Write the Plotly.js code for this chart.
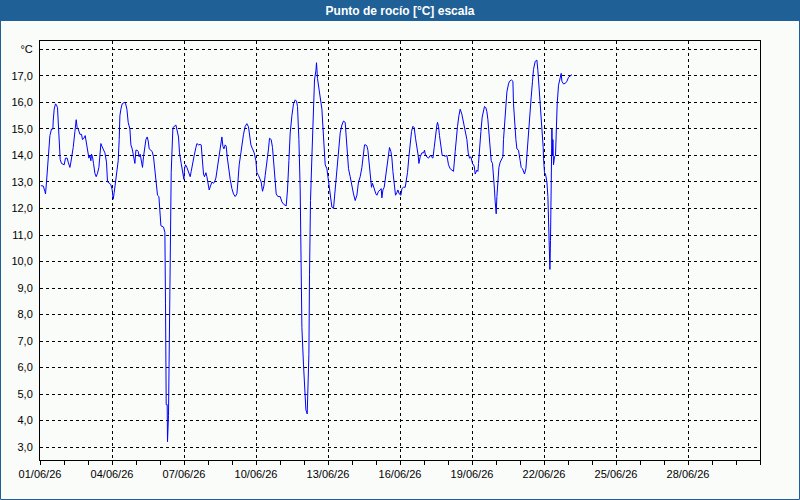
<!DOCTYPE html>
<html>
<head>
<meta charset="utf-8">
<script src="https://cdn.plot.ly/plotly-3.0.1.min.js"></script>
<style>html,body{margin:0;padding:0;background:#fafcfa;}#chart{width:800px;height:500px;}</style>
</head>
<body>
<div id="chart"></div>
<script>
// Hours since 01/06/26 00:00
const hours = [0.9,3.2,4.9,5.5,6.5,8.2,9.2,9.9,11.5,12.9,13.2,14.2,15.5,16.5,17.5,18.9,19.5,20.2,21.5,23.2,24.2,25.5,27.2,28.2,29.9,30.9,32.2,33.2,34.9,36.2,37.2,38.2,39.9,41.5,42.5,43.9,45.2,46.5,47.5,48.9,49.9,50.9,51.5,52.5,53.5,54.9,56.2,57.5,58.9,59.9,60.9,61.9,63.2,64.9,66.5,67.5,68.9,70.9,72.2,73.2,74.2,75.5,76.9,78.2,79.2,79.9,80.9,82.2,84.2,85.5,86.9,88.2,89.9,90.9,92.2,93.5,94.9,95.9,97.2,98.2,99.2,100.2,101.5,102.5,103.5,104.9,105.9,107.2,108.2,109.2,110.9,112.2,113.5,114.9,115.9,117.5,118.9,119.9,120.9,123.5,124.9,125.5,126.2,127.2,127.5,128.5,129.2,129.9,130.9,131.2,132.9,135.9,138.5,139.5,141.2,142.9,143.9,144.5,145.5,146.9,148.5,150.2,151.2,152.5,154.2,155.9,156.9,158.5,160.2,161.2,162.5,163.5,164.5,165.9,166.9,167.9,169.2,170.5,171.9,173.5,174.5,175.9,177.2,178.5,179.9,180.9,181.9,182.9,183.9,185.2,186.2,187.2,188.5,190.2,191.9,193.5,195.2,196.9,197.9,199.2,200.9,201.9,203.5,205.2,206.9,208.5,209.5,210.9,212.5,214.2,215.9,216.9,218.5,220.2,221.2,222.5,223.9,225.2,226.9,228.5,229.5,231.2,232.5,233.9,235.2,236.2,237.9,240.2,241.9,243.9,246.2,247.5,248.9,250.2,251.9,253.5,255.2,256.5,257.5,258.9,260.2,260.9,261.9,263.5,264.5,265.9,267.2,267.9,268.9,269.5,270.5,271.9,273.2,274.5,275.9,276.5,277.5,278.5,280.2,281.9,283.5,285.2,286.9,287.9,289.2,290.5,291.9,293.5,294.5,295.5,296.9,298.5,300.2,301.9,303.5,305.2,306.2,307.5,308.5,310.2,311.9,313.5,315.2,316.9,318.5,320.2,321.9,323.5,324.5,325.9,326.9,327.9,329.2,330.2,331.5,332.5,333.5,334.5,335.9,336.9,338.5,340.2,341.2,341.9,342.9,344.2,345.5,346.9,348.5,349.5,350.9,351.9,352.9,354.2,355.5,356.9,357.9,359.2,360.9,361.9,363.5,365.2,366.2,367.5,368.9,370.2,371.5,372.9,374.2,375.5,376.9,378.2,378.9,380.2,381.9,383.5,384.5,385.5,386.9,388.5,390.2,391.9,392.9,394.2,395.5,396.9,397.5,398.5,399.5,400.9,402.2,403.5,405.2,406.9,408.5,410.2,411.9,413.5,415.2,416.2,417.5,418.9,420.2,421.9,423.5,425.2,426.9,428.2,429.5,430.9,432.5,434.2,435.2,436.9,437.9,438.5,439.5,440.9,442.2,443.5,444.5,445.9,446.9,447.9,449.2,450.2,451.2,452.5,453.5,454.5,455.2,456.2,456.9,457.9,458.9,460.2,461.9,462.9,463.5,464.5,465.5,466.9,468.5,469.5,471.5,472.9,473.5,474.5,475.9,476.9,478.5,480.2,481.2,482.5,483.5,484.5,485.9,486.9,488.5,490.2,491.2,492.5,493.5,495.2,496.9,497.9,499.2,500.2,501.2,502.2,503.2,503.5,504.5,505.5,506.9,507.9,508.5,509.2,509.9,510.5,511.2,511.9,512.5,512.9,513.5,514.5,515.5,516.2,517.2,518.5,520.2,521.2,521.9,523.5,525.2,526.9,528.5,530.2,531.9];
const dewPoint = [12.86,12.85,12.65,12.55,13.0,13.75,14.3,14.75,15.0,15.0,15.3,15.75,15.95,15.9,15.8,15.0,14.3,13.85,13.7,13.65,13.65,13.9,13.9,13.75,13.55,13.75,14.0,14.3,14.9,15.35,15.05,15.0,14.8,14.8,14.6,14.65,14.75,14.45,14.2,13.9,14.0,13.8,14.05,13.95,13.7,13.33,13.2,13.33,13.55,14.1,14.45,14.35,14.25,14.1,13.75,13.0,12.97,12.9,12.7,12.35,12.6,13.0,13.35,13.8,14.6,15.5,15.75,15.95,16.0,15.97,15.75,15.25,15.0,14.4,14.25,13.95,13.7,14.2,14.2,14.15,13.95,14.05,13.75,13.55,13.95,14.5,14.6,14.7,14.55,14.25,14.2,14.15,13.95,13.45,12.95,12.5,12.45,11.9,11.35,11.3,11.1,8.4,4.6,4.6,3.2,4.2,6.2,8.35,10.9,13.35,15.05,15.15,14.7,14.1,13.7,13.3,13.1,13.5,13.65,13.55,13.35,13.2,13.4,13.7,14.0,14.3,14.45,14.4,14.42,14.4,13.65,13.3,13.2,13.35,13.2,13.0,12.7,12.85,13.0,12.95,13.0,13.15,13.5,13.8,14.2,14.6,14.7,14.35,14.25,14.4,14.35,13.95,13.5,13.1,12.75,12.55,12.45,12.55,13.0,13.65,14.1,14.45,14.8,15.1,15.2,15.08,14.8,14.4,14.25,14.1,13.8,13.35,13.25,13.1,13.0,12.65,12.85,13.25,13.7,14.25,14.65,14.6,14.3,13.7,13.0,12.55,12.45,12.45,12.25,12.15,12.1,12.7,13.8,14.85,15.5,15.95,16.1,16.05,15.85,14.6,12.7,10.2,7.5,6.1,5.3,4.4,4.25,5.0,6.5,9.5,12.3,13.95,15.95,16.85,17.2,17.5,16.9,16.65,16.3,15.75,14.7,13.65,13.5,13.2,12.7,12.25,12.05,12.0,12.4,13.05,13.5,14.3,14.85,15.15,15.3,15.25,14.8,13.95,13.5,13.2,12.8,12.55,12.3,12.5,13.0,13.2,13.55,14.05,14.4,14.4,14.35,14.2,13.7,13.05,12.8,12.95,12.8,12.7,12.55,12.5,12.65,12.7,12.75,12.4,12.7,12.8,13.15,13.65,14.1,14.3,14.15,13.9,13.4,13.0,12.5,12.6,12.7,12.55,12.5,12.75,12.8,12.8,13.0,13.35,13.95,14.55,14.9,15.1,15.05,14.65,14.35,14.0,13.7,13.95,14.1,14.1,14.2,14.0,13.95,13.9,14.0,13.95,13.9,14.3,14.85,15.15,15.25,15.1,14.75,14.35,14.0,14.0,13.97,14.0,13.65,13.5,13.45,13.4,14.15,14.7,15.1,15.5,15.75,15.55,15.25,15.05,14.6,14.1,13.9,13.95,13.7,13.6,13.3,13.45,13.4,13.7,14.3,14.9,15.45,15.75,15.85,15.8,15.65,15.35,14.85,14.45,13.8,13.7,13.3,12.7,12.25,11.8,12.45,13.15,13.55,13.75,13.9,13.95,14.6,15.1,15.85,16.4,16.7,16.8,16.85,16.8,15.95,15.2,14.6,14.25,14.2,13.8,13.55,13.5,13.4,13.3,13.5,13.95,14.65,15.45,16.2,16.8,17.25,17.55,17.6,17.2,16.55,15.95,15.35,14.7,14.3,13.9,13.35,13.3,13.0,12.45,11.3,10.5,9.7,10.8,13.3,15.0,14.0,14.6,13.65,13.95,14.0,15.0,15.95,16.65,16.95,17.1,16.8,16.7,16.72,16.8,16.95,17.0,17.05];

const xTickVals = ['2026-06-01','2026-06-04','2026-06-07','2026-06-10','2026-06-13','2026-06-16','2026-06-19','2026-06-22','2026-06-25','2026-06-28'];
const xTickText = ['01/06/26','04/06/26','07/06/26','10/06/26','13/06/26','16/06/26','19/06/26','22/06/26','25/06/26','28/06/26'];
const yTickVals = [3,4,5,6,7,8,9,10,11,12,13,14,15,16,17,18];
const yTickText = ['3,0','4,0','5,0','6,0','7,0','8,0','9,0','10,0','11,0','12,0','13,0','14,0','15,0','16,0','17,0','°C'];

const base = Date.UTC(2026, 5, 1);
const times = hours.map(h => new Date(base + h * 3600000).toISOString().replace('T', ' ').slice(0, 19));

const FONT = 'Liberation Sans, Arial, sans-serif';
const BLUE = '#1f6096';

const trace = {
  x: times, y: dewPoint, type: 'scatter', mode: 'lines',
  line: {color: '#0000ff', width: 1}, hoverinfo: 'x+y'
};

const W = 800, H = 500, ml = 40, mr = 40, mt = 41, mb = 40;
const pw = W - ml - mr, ph = H - mt - mb;
const px = v => (v - ml) / pw;          // pixel x -> paper
const py = v => 1 - (v - mt) / ph;      // pixel y -> paper

const layout = {
  width: W, height: H,
  margin: {l: ml, r: mr, t: mt, b: mb, pad: 0},
  paper_bgcolor: '#fafcfa', plot_bgcolor: '#fafcfa',
  showlegend: false,
  font: {family: FONT, size: 11, color: '#000'},
  title: {
    text: '<b>Punto de rocío [°C] escala</b>',
    font: {family: FONT, size: 12, color: '#ffffff'},
    x: 0.5, xref: 'paper', xanchor: 'center',
    y: 1 - 10.5 / H, yref: 'container', yanchor: 'middle'
  },
  xaxis: {
    type: 'date',
    range: ['2026-06-01 00:00:00', '2026-07-01 00:00:00'],
    tickmode: 'array', tickvals: xTickVals, ticktext: xTickText,
    ticks: 'outside', ticklen: 4, tickcolor: '#000', tickwidth: 1,
    showline: true, linecolor: '#000', linewidth: 1, mirror: true,
    showgrid: true, gridcolor: '#000', gridwidth: 1, griddash: '3px,3px',
    zeroline: false,
    tickfont: {family: FONT, size: 11, color: '#000'},
    minor: {tickmode: 'linear', tick0: '2026-06-01', dtick: 86400000, ticks: 'outside', ticklen: 4, tickcolor: '#000', showgrid: false},
    fixedrange: true
  },
  yaxis: {
    range: [2.51, 18.32],
    tickmode: 'array', tickvals: yTickVals, ticktext: yTickText,
    ticks: '', showline: true, linecolor: '#000', linewidth: 1, mirror: true,
    showgrid: true, gridcolor: '#000', gridwidth: 1, griddash: '3px,3px',
    zeroline: false, ticklabelstandoff: 4,
    tickfont: {family: FONT, size: 11, color: '#000'},
    fixedrange: true
  },
  shapes: [
    {type: 'rect', xref: 'paper', yref: 'paper', layer: 'below',
     x0: px(0), x1: px(W), y0: py(0), y1: py(21),
     fillcolor: BLUE, line: {width: 0}},
    {type: 'rect', xref: 'paper', yref: 'paper', layer: 'above',
     x0: px(0.5), x1: px(W - 0.5), y0: py(0.5), y1: py(H - 0.5),
     fillcolor: 'rgba(0,0,0,0)', line: {color: BLUE, width: 1}}
  ]
};

Plotly.newPlot('chart', [trace], layout, {displayModeBar: false, staticPlot: true});
</script>
</body>
</html>
